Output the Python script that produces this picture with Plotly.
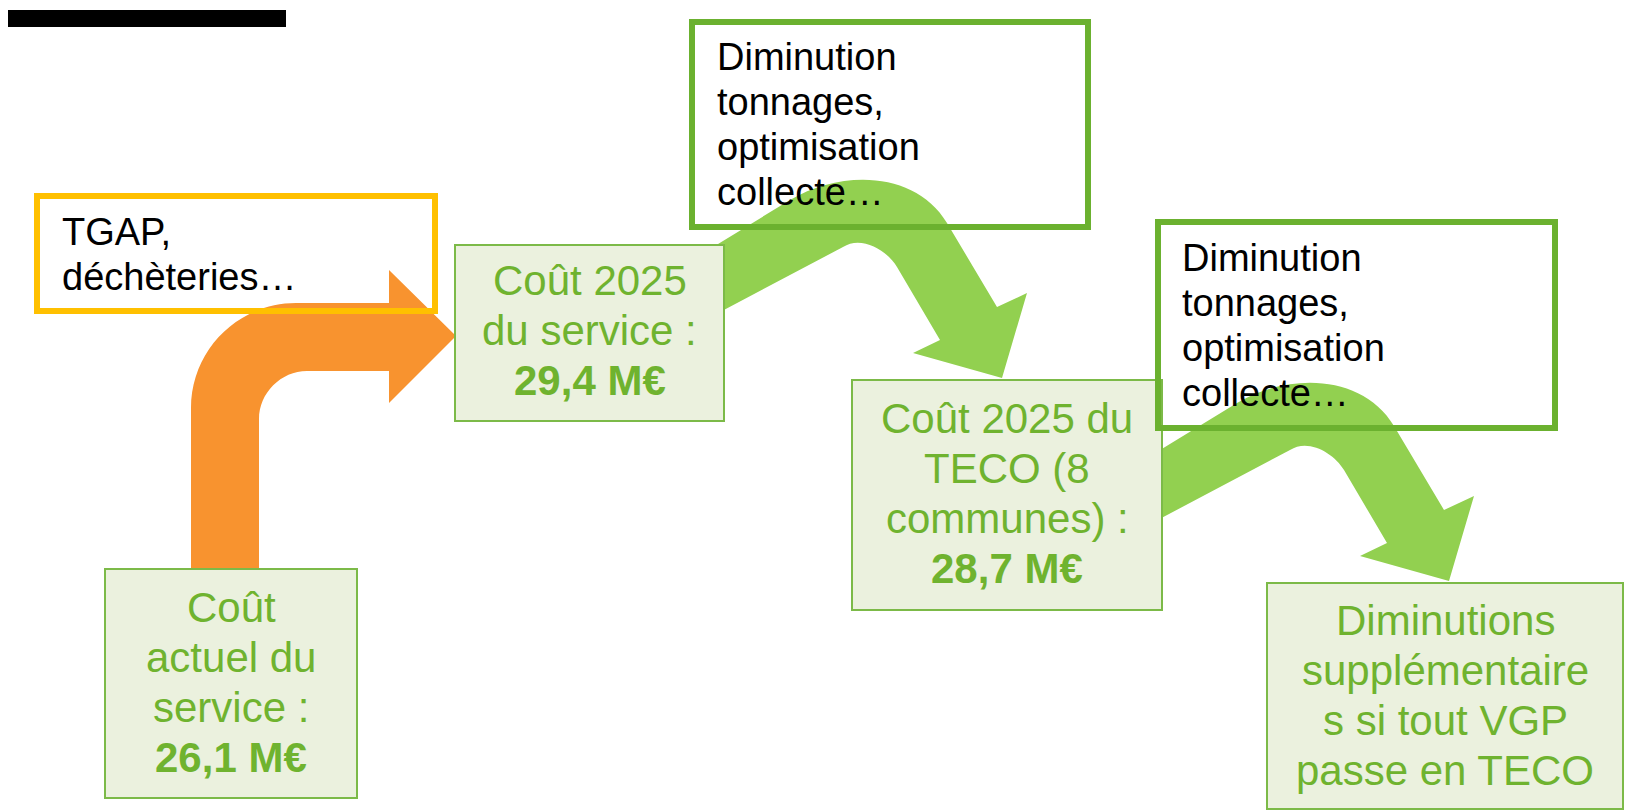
import plotly.graph_objects as go

W, H = 1629, 811

# ---------------- text content ----------------
step_labels = [
    ["Coût", "actuel du", "service :", "<b>26,1 M€</b>"],
    ["Coût 2025", "du service :", "<b>29,4 M€</b>"],
    ["Coût 2025 du", "TECO (8", "communes) :", "<b>28,7 M€</b>"],
    ["Diminutions", "supplémentaire", "s si tout VGP", "passe en TECO"],
]
driver_labels = [
    ["TGAP,", "déchèteries…"],
    ["Diminution", "tonnages,", "optimisation", "collecte…"],
    ["Diminution", "tonnages,", "optimisation", "collecte…"],
]

# ---------------- layout constants (pixels) ----------------
FONT = "Arial, 'Liberation Sans', sans-serif"
TXT_GREEN = "#6FB32F"
FILL_GREEN = "#EBF1DE"
BOX_BORDER = "#7CBA48"
OUTLINE_GREEN = "#6BB12F"
YELLOW = "#FFC000"
ORANGE = "#F8932F"
ARROW_GREEN = "#92D050"

step_boxes = [(105, 569, 357, 798), (455, 245, 724, 421),
              (852, 380, 1162, 610), (1267, 583, 1623, 809)]
step_base0 = [622, 295, 433, 635]
STEP_FS, STEP_LS = 42, 50

driver_boxes = [(37, 196, 435, 311, YELLOW),
                (692, 22, 1088, 227, OUTLINE_GREEN),
                (1158, 222, 1555, 428, OUTLINE_GREEN)]
driver_x = [60, 715, 1180]
driver_base0 = [245, 70, 271]
DRV_FS, DRV_LS = 38, 45

shapes = []
annotations = []

# black title bar
shapes.append(dict(type="rect", x0=8, y0=10, x1=286, y1=27,
                   fillcolor="black", line=dict(width=0)))

# orange bent arrow
orange_path = ("M191,575 L191,408 C191,350 238,303 296,303 L389,303 L389,270 "
               "L456,336 L389,403 L389,371 L307,371 C281,371 259,393 259,419 "
               "L259,575 Z")
shapes.append(dict(type="path", path=orange_path, fillcolor=ORANGE,
                   line=dict(width=0)))

# green curved arrows (same outline, translated)
arrow_tpl = [("M", [(700, 255)]), ("L", [(790, 200)]),
             ("C", [(842, 169), (916, 171), (947, 223)]),
             ("L", [(997, 307)]), ("L", [(1027, 293)]), ("L", [(1002, 378)]),
             ("L", [(913, 353)]), ("L", [(940, 340)]), ("L", [(897, 267)]),
             ("C", [(887, 250), (861, 235), (843, 247)]),
             ("L", [(705, 320)])]


def arrow_path(dx, dy):
    parts = []
    for cmd, pts in arrow_tpl:
        parts.append(cmd + " ".join(f"{x + dx},{y + dy}" for x, y in pts))
    return " ".join(parts) + " Z"


for dx, dy in [(0, 0), (447, 203)]:
    shapes.append(dict(type="path", path=arrow_path(dx, dy),
                       fillcolor=ARROW_GREEN, line=dict(width=0)))

# filled step boxes + text
for (x0, y0, x1, y1), lines, b0 in zip(step_boxes, step_labels, step_base0):
    shapes.append(dict(type="rect", x0=x0, y0=y0, x1=x1, y1=y1,
                       fillcolor=FILL_GREEN,
                       line=dict(color=BOX_BORDER, width=2)))
    cx = (x0 + x1) / 2
    for i, t in enumerate(lines):
        base = b0 + i * STEP_LS
        annotations.append(dict(
            x=cx, y=base - 0.347 * STEP_FS, xref="x", yref="y", text=t,
            showarrow=False, xanchor="center", yanchor="middle",
            font=dict(family=FONT, size=STEP_FS, color=TXT_GREEN)))

# outlined driver boxes + text
for (x0, y0, x1, y1, col), lines, tx, b0 in zip(driver_boxes, driver_labels,
                                                driver_x, driver_base0):
    shapes.append(dict(type="rect", x0=x0, y0=y0, x1=x1, y1=y1,
                       fillcolor="rgba(0,0,0,0)",
                       line=dict(color=col, width=6)))
    for i, t in enumerate(lines):
        base = b0 + i * DRV_LS
        annotations.append(dict(
            x=tx, y=base - 0.347 * DRV_FS, xref="x", yref="y", text=t,
            showarrow=False, xanchor="left", yanchor="middle",
            font=dict(family=FONT, size=DRV_FS, color="black")))

fig = go.Figure()
fig.update_layout(
    width=W, height=H, autosize=False,
    margin=dict(l=0, r=0, t=0, b=0, pad=0),
    paper_bgcolor="white", plot_bgcolor="white",
    xaxis=dict(range=[0, W], visible=False, fixedrange=True),
    yaxis=dict(range=[H, 0], visible=False, fixedrange=True),
    shapes=shapes, annotations=annotations, showlegend=False,
)
fig.write_html(
    "out.html",
    config={"displayModeBar": False},
    post_script="document.body.style.margin='0';document.body.style.overflow='hidden';",
)
